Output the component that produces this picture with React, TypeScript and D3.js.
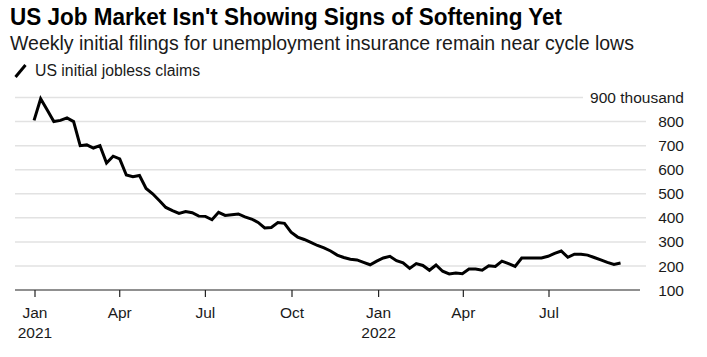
import React from "react";
import * as d3 from "d3";

const title = "US Job Market Isn't Showing Signs of Softening Yet";
const subtitle = "Weekly initial filings for unemployment insurance remain near cycle lows";
const seriesName = "US initial jobless claims";

const startDate = "2020-12-31";
const claims = [
  805, 895, 848, 800, 805, 815, 800, 700, 703, 690,
  700, 628, 656, 645, 578, 571, 576, 522, 500, 472,
  443, 430, 418, 426, 421, 407, 406, 392, 423, 410,
  413, 416, 404, 395, 381, 358, 360, 380, 377, 340,
  320, 310, 298, 285, 275, 262, 245, 235, 228, 225,
  215, 205, 220, 233, 240, 222, 213, 190, 210, 202,
  182, 204, 178, 167, 171, 168, 187, 187, 182, 201,
  198, 220, 210, 198, 233, 233, 233, 233, 240, 252,
  262, 236, 249, 249, 245, 235, 225, 215, 206, 212,
];

const yTicks = [100, 200, 300, 400, 500, 600, 700, 800, 900];
const xTickDates = ["2021-01-01", "2021-04-01", "2021-07-01", "2021-10-01", "2022-01-01", "2022-04-01", "2022-07-01"];
const xTickMonths = ["Jan", "Apr", "Jul", "Oct", "Jan", "Apr", "Jul"];
const xTickYears = ["2021", "", "", "", "2022", "", ""];

const W = 707;
const H = 357;
const FONT = "'Liberation Sans', Arial, Helvetica, sans-serif";

export default function App() {
  const parse = d3.utcParse("%Y-%m-%d");
  const start = parse(startDate) as Date;
  const data = claims.map((v, i) => ({ date: d3.utcDay.offset(start, 7 * i), value: v }));

  const x = d3
    .scaleUtc()
    .domain([parse("2021-01-01") as Date, parse("2022-07-01") as Date])
    .range([35, 549]);
  const y = d3.scaleLinear().domain([100, 900]).range([290, 97.5]);

  const line = d3
    .line<{ date: Date; value: number }>()
    .x((d) => x(d.date))
    .y((d) => y(d.value))
    .curve(d3.curveLinear);

  const gridLeft = 15;
  const gridRight = 646;
  const axisRight = 640;
  const labelX = 684;

  return (
    <svg
      width={W}
      height={H}
      viewBox={`0 0 ${W} ${H}`}
      style={{ position: "absolute", left: 0, top: 0, background: "#fff" }}
      fontFamily={FONT}
    >
      <rect width={W} height={H} fill="#fff" />
      <text
        x={10}
        y={25}
        fontSize={23.5}
        fontWeight="bold"
        fill="#000"
        textLength={552}
        lengthAdjust="spacingAndGlyphs"
      >
        {title}
      </text>
      <text x={10} y={50} fontSize={19.5} fill="#1a1a1a">
        {subtitle}
      </text>
      <line x1={15.5} y1={77} x2={25.5} y2={65} stroke="#000" strokeWidth={3} />
      <text x={35} y={75.5} fontSize={15.8} fill="#1a1a1a">
        {seriesName}
      </text>

      {yTicks.map((t) =>
        t === 100 ? null : (
          <line
            key={"g" + t}
            x1={gridLeft}
            x2={t === 900 ? 583 : gridRight}
            y1={y(t)}
            y2={y(t)}
            stroke="#e2e2e2"
            strokeWidth={1.5}
          />
        )
      )}
      {yTicks.map((t) => (
        <text
          key={"yl" + t}
          x={labelX}
          y={y(t)}
          dy="0.36em"
          textAnchor="end"
          fontSize={15.5}
          fill="#1a1a1a"
        >
          {t === 900 ? "900 thousand" : String(t)}
        </text>
      ))}

      <line x1={gridLeft} x2={axisRight} y1={y(100)} y2={y(100)} stroke="#222" strokeWidth={1.2} />
      {xTickDates.map((ds, i) => {
        const xx = x(parse(ds) as Date);
        return (
          <g key={"xt" + i}>
            <line x1={xx} x2={xx} y1={y(100)} y2={y(100) + 7} stroke="#222" strokeWidth={1.2} />
            <text x={xx} y={318} textAnchor="middle" fontSize={15.5} fill="#1a1a1a">
              {xTickMonths[i]}
            </text>
            {xTickYears[i] ? (
              <text x={xx} y={338} textAnchor="middle" fontSize={15.5} fill="#1a1a1a">
                {xTickYears[i]}
              </text>
            ) : null}
          </g>
        );
      })}

      <path
        d={line(data) || ""}
        fill="none"
        stroke="#000"
        strokeWidth={3}
        strokeLinejoin="miter"
        strokeLinecap="butt"
      />
    </svg>
  );
}
